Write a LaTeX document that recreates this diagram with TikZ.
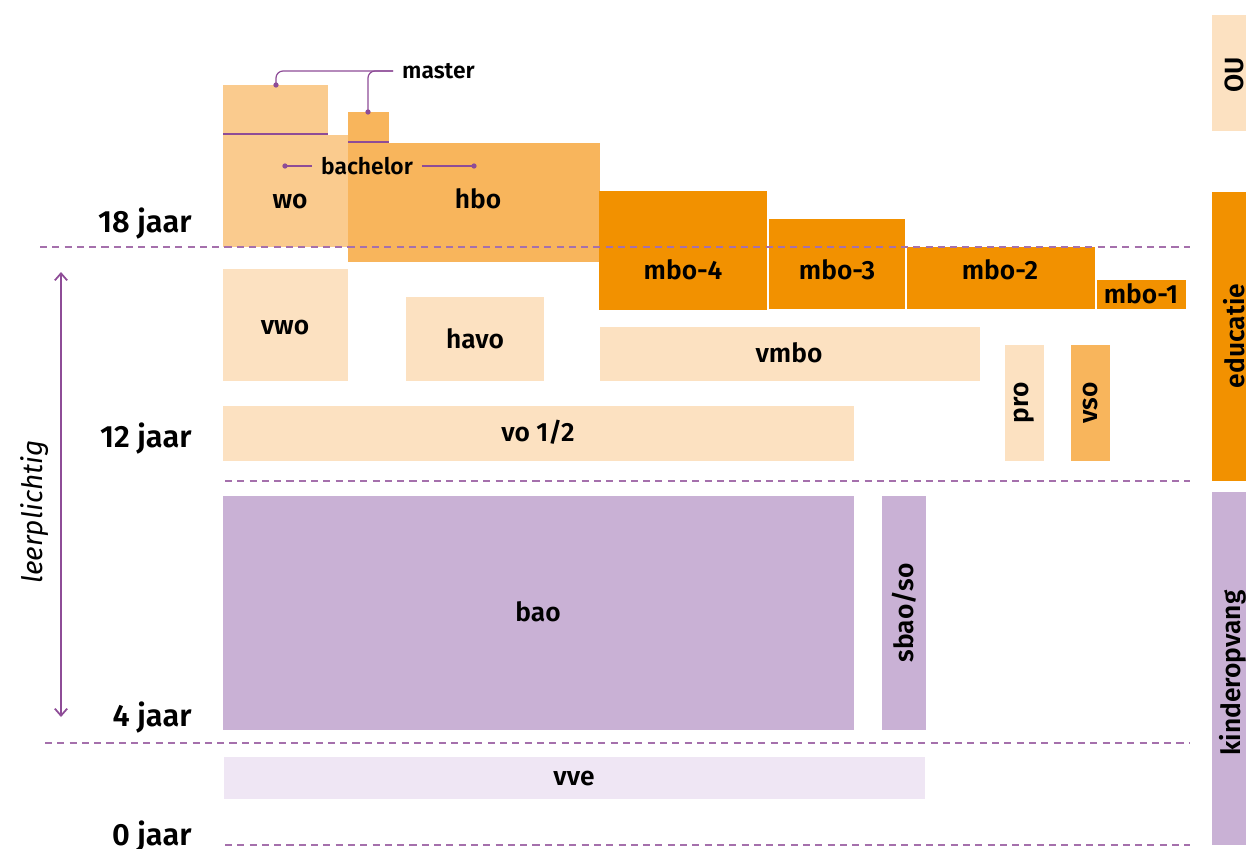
\documentclass[tikz,border=0pt]{standalone}
\usepackage{fontspec}
\setmainfont{Fira Sans}[BoldFont={* SemiBold}]
\usetikzlibrary{arrows.meta}

\definecolor{peach}{HTML}{FCE1C1}
\definecolor{wocol}{HTML}{FACB8E}
\definecolor{hbocol}{HTML}{F8B55C}
\definecolor{mbocol}{HTML}{F29100}
\definecolor{baocol}{HTML}{C9B1D5}
\definecolor{vvecol}{HTML}{EFE6F4}
\definecolor{paars}{HTML}{8E4C97}

\begin{document}
\begin{tikzpicture}[
        x=0.02cm, y=-0.02cm,
        lbl/.style={font=\bfseries\fontsize{15}{17}\selectfont, inner sep=0pt, anchor=base},
        vlbl/.style={font=\bfseries\fontsize{15}{17}\selectfont, inner sep=0pt, rotate=90},
        age/.style={font=\bfseries\fontsize{17.5}{19}\selectfont, inner sep=0pt, anchor=base east},
        ann/.style={draw=paars, line width=0.7pt},
        anntext/.style={font=\bfseries\fontsize{13}{15}\selectfont, inner sep=5pt},
        grens/.style={draw=paars!80, line width=0.6pt, dash pattern=on 4pt off 3pt}
    ]
        \useasboundingbox (0,0) rectangle (1246,848);

        % Hoger onderwijs
        \fill[wocol] (223,85) rectangle (328,135);
        \fill[wocol] (223,135) rectangle (348,247);
        \fill[hbocol] (348,112) rectangle (389,143);
        \fill[hbocol] (348,143) rectangle (600,262);
        \draw[paars, line width=1pt] (223,134) -- (328,134);
        \draw[paars, line width=1pt] (348,142) -- (389,142);
        \node[lbl] (wo) at (290,208) {wo};
        \node[lbl] (hbo) at (478,208) {hbo};

        % Master en bachelor
        \coordinate (mwo) at (276,85);
        \coordinate (mhbo) at (368,112);
        \coordinate (bwo) at (285,166);
        \coordinate (bhbo) at (474,166);
        \node[anntext, anchor=west] (master) at (393,71) {master};
        \node[anntext] (bachelor) at (367,166) {bachelor};
        \draw[ann, rounded corners=4pt] (master.west) -| (mwo);
        \draw[ann, rounded corners=4pt] (master.west) -| (mhbo);
        \draw[ann] (bachelor.west) -- (bwo);
        \draw[ann] (bachelor.east) -- (bhbo);
        \foreach \p in {mwo,mhbo,bwo,bhbo}
            \fill[paars] (\p) circle (1.5pt);

        % Mbo
        \fill[mbocol] (599,191) rectangle (767,310);
        \fill[mbocol] (769,219) rectangle (905,309);
        \fill[mbocol] (907,247) rectangle (1095,309);
        \fill[mbocol] (1097,280) rectangle (1186,309);
        \node[lbl] (mbo4) at (683,279) {mbo-4};
        \node[lbl] (mbo3) at (837,279) {mbo-3};
        \node[lbl] (mbo2) at (1000,279) {mbo-2};
        \node[lbl] (mbo1) at (1141,303) {mbo-1};

        % Voortgezet onderwijs
        \fill[peach] (223,269) rectangle (348,381);
        \fill[peach] (406,297) rectangle (544,381);
        \fill[peach] (600,327) rectangle (980,381);
        \fill[peach] (1005,345) rectangle (1044,461);
        \fill[hbocol] (1071,345) rectangle (1110,461);
        \fill[peach] (223,406) rectangle (854,461);
        \node[lbl] (vwo) at (285,334) {vwo};
        \node[lbl] (havo) at (475,348) {havo};
        \node[lbl] (vmbo) at (789,362) {vmbo};
        \node[vlbl] (pro) at (1024,403) {pro};
        \node[vlbl] (vso) at (1090,403) {vso};
        \node[lbl] (vo) at (538,441) {vo 1/2};

        % Basisonderwijs en vve
        \fill[baocol] (223,496) rectangle (854,730);
        \fill[baocol] (882,496) rectangle (926,730);
        \fill[vvecol] (224,757) rectangle (925,799);
        \node[lbl] (bao) at (538,621) {bao};
        \node[vlbl] (sbao) at (904,613) {sbao/so};
        \node[lbl] (vve) at (574,785) {vve};

        % Zijbalken
        \fill[peach] (1212,15) rectangle (1246,131);
        \fill[mbocol] (1212,192) rectangle (1246,481);
        \fill[baocol] (1212,492) rectangle (1246,845);
        \node[vlbl] (ou) at (1234,75) {OU};
        \node[vlbl] (educatie) at (1234,336) {educatie};
        \node[vlbl] (kinderopvang) at (1233,673) {kinderopvang};

        % Leeftijdsgrenzen
        \draw[grens] (40,247) -- (1190,247);
        \draw[grens] (225,481) -- (1190,481);
        \draw[grens] (45,743) -- (1190,743);
        \draw[grens] (225,845) -- (1190,845);
        \node[age] (a18) at (192,232) {18 jaar};
        \node[age] (a12) at (192,447) {12 jaar};
        \node[age] (a4) at (192,726) {4 jaar};
        \node[age] (a0) at (192,845) {0 jaar};

        % Leerplicht
        \coordinate (lpboven) at (61,272);
        \coordinate (lponder) at (61,717);
        \draw[paars, line width=1pt, {Straight Barb[length=4pt, width=7pt]}-{Straight Barb[length=4pt, width=7pt]}] (lpboven) -- (lponder);
        \node[font=\itshape\fontsize{16}{18}\selectfont, rotate=90, inner sep=0pt] (leerplicht) at (35,512) {leerplichtig};

    \end{tikzpicture}
\end{document}
